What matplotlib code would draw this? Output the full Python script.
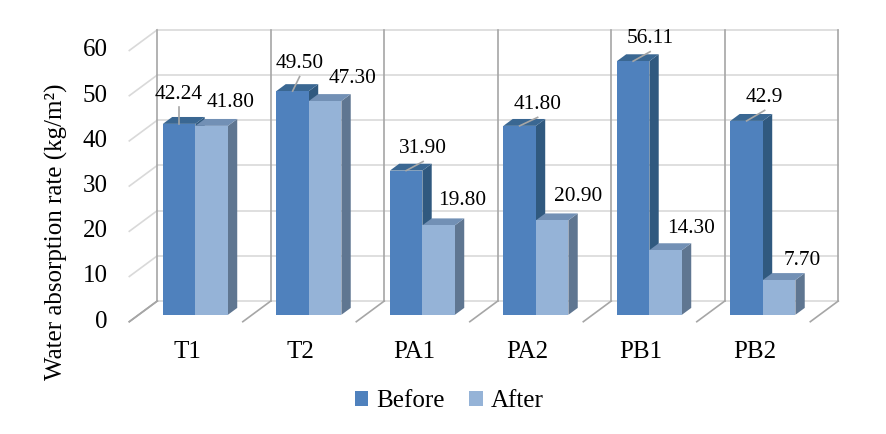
import matplotlib
matplotlib.use("Agg")
import matplotlib.pyplot as plt
from matplotlib.patches import Polygon, Patch

categories = ["T1", "T2", "PA1", "PA2", "PB1", "PB2"]
before = [42.24, 49.50, 31.90, 41.80, 56.11, 42.9]
after = [41.80, 47.30, 19.80, 20.90, 14.30, 7.70]
before_labels = ["42.24", "49.50", "31.90", "41.80", "56.11", "42.9"]
after_labels = ["41.80", "47.30", "19.80", "20.90", "14.30", "7.70"]
yticks = [0, 10, 20, 30, 40, 50, 60]

# label offsets in pixels (layout only)
before_off = [(0, 25), (7, 23), (17, 17.6), (18, 17), (17, 18), (18, 19)]
after_off = [(19.4, 19), (27, 18), (24, 20), (26, 19), (25, 17), (23, 15)]

plt.rcParams['font.family'] = ['Liberation Serif', 'DejaVu Serif']
FS = 15.4   # data labels
AFS = 18    # axis texts

W, H = 887, 434
fig = plt.figure(figsize=(W / 100, H / 100), dpi=100)
ax = fig.add_axes([0, 0, 1, 1])
ax.axis('off')

PX_X = 113.5    # pixels per category
PX_Y = 4.52     # pixels per unit value
X0, Y0 = 129.3, 321.7
ax.set_xlim(-X0 / PX_X, (W - X0) / PX_X)
ax.set_ylim((Y0 - H) / PX_Y, Y0 / PX_Y)

DX = 28 / PX_X      # full depth offset in x units
DY = 20.7 / PX_Y    # full depth offset in value units

light = '#d9d9d9'
dark = '#a6a6a6'
n = len(categories)
ymax = yticks[-1]

# back wall horizontal gridlines and left wall diagonals
for t in yticks:
    ax.plot([DX, n + DX], [t + DY, t + DY], color=light, lw=1.2, zorder=1)
    ax.plot([0, DX], [t, t + DY], color=(dark if t == 0 else light), lw=1.2, zorder=1)
    ax.text(-21.3 / PX_X, t, str(t), ha='right', va='center', fontsize=AFS, zorder=5)

# back wall verticals and floor diagonals
for k in range(n + 1):
    ax.plot([k + DX, k + DX], [DY, ymax + DY], color=dark, lw=1.2, zorder=1)
    ax.plot([k, k + DX], [0, DY], color=dark, lw=1.2, zorder=1)

bw = 0.2865
f = 1 / 3
fx, fy = DX * f, DY * f
bx, by = DX * 2 / 3, DY * 2 / 3

styles = [
    ('#4F81BD', '#3A6792', '#30597F'),
    ('#95B3D7', '#7290B5', '#5F7691'),
]

def draw_bar(x0, v, cols):
    front, top, side = cols
    x1 = x0 + bw
    ax.add_patch(Polygon([(x1 + fx, fy), (x1 + bx, by), (x1 + bx, v + by), (x1 + fx, v + fy)],
                         closed=True, facecolor=side, edgecolor='none', zorder=3))
    ax.add_patch(Polygon([(x0 + fx, v + fy), (x1 + fx, v + fy), (x1 + bx, v + by), (x0 + bx, v + by)],
                         closed=True, facecolor=top, edgecolor='none', zorder=3))
    ax.add_patch(Polygon([(x0 + fx, fy), (x1 + fx, fy), (x1 + fx, v + fy), (x0 + fx, v + fy)],
                         closed=True, facecolor=front, edgecolor='none', zorder=3))

for k in range(n):
    xc = k + 0.5
    draw_bar(xc - bw, before[k], styles[0])
    draw_bar(xc, after[k], styles[1])

    # before label with leader
    ax_x = xc - bw / 2 + fx
    ax_y = before[k] + fy
    odx, ody = before_off[k]
    ax.annotate(before_labels[k], xy=(ax_x, ax_y), xytext=(odx, ody), textcoords='offset pixels',
                ha='center', va='baseline', fontsize=FS, zorder=6)
    ax.plot([ax_x, ax_x + odx / PX_X], [ax_y, ax_y + (ody - 8.5) / PX_Y], color=dark, lw=1.2, zorder=5)

    ax2_x = xc + bw / 2 + fx
    ax2_y = after[k] + fy
    odx, ody = after_off[k]
    ax.annotate(after_labels[k], xy=(ax2_x, ax2_y), xytext=(odx, ody), textcoords='offset pixels',
                ha='center', va='baseline', fontsize=FS, zorder=6)

    ax.text(xc + 0.01, -36.3 / PX_Y, categories[k], ha='center', va='baseline', fontsize=AFS)

ax.text((56 - X0) / PX_X, (Y0 - 232) / PX_Y, 'Water absorption rate (kg/m²)',
        rotation=90, ha='center', va='center', fontsize=AFS)

handles = [Patch(facecolor=styles[0][0], edgecolor='none', label='Before'),
           Patch(facecolor=styles[1][0], edgecolor='none', label='After')]
fig.legend(handles=handles, loc='center', bbox_to_anchor=(449 / W, 1 - 401 / H), ncol=2,
           frameon=False, fontsize=AFS, handlelength=0.55, handleheight=0.55,
           handletextpad=0.3, columnspacing=1.0)

fig.savefig('out.png', dpi=100)
